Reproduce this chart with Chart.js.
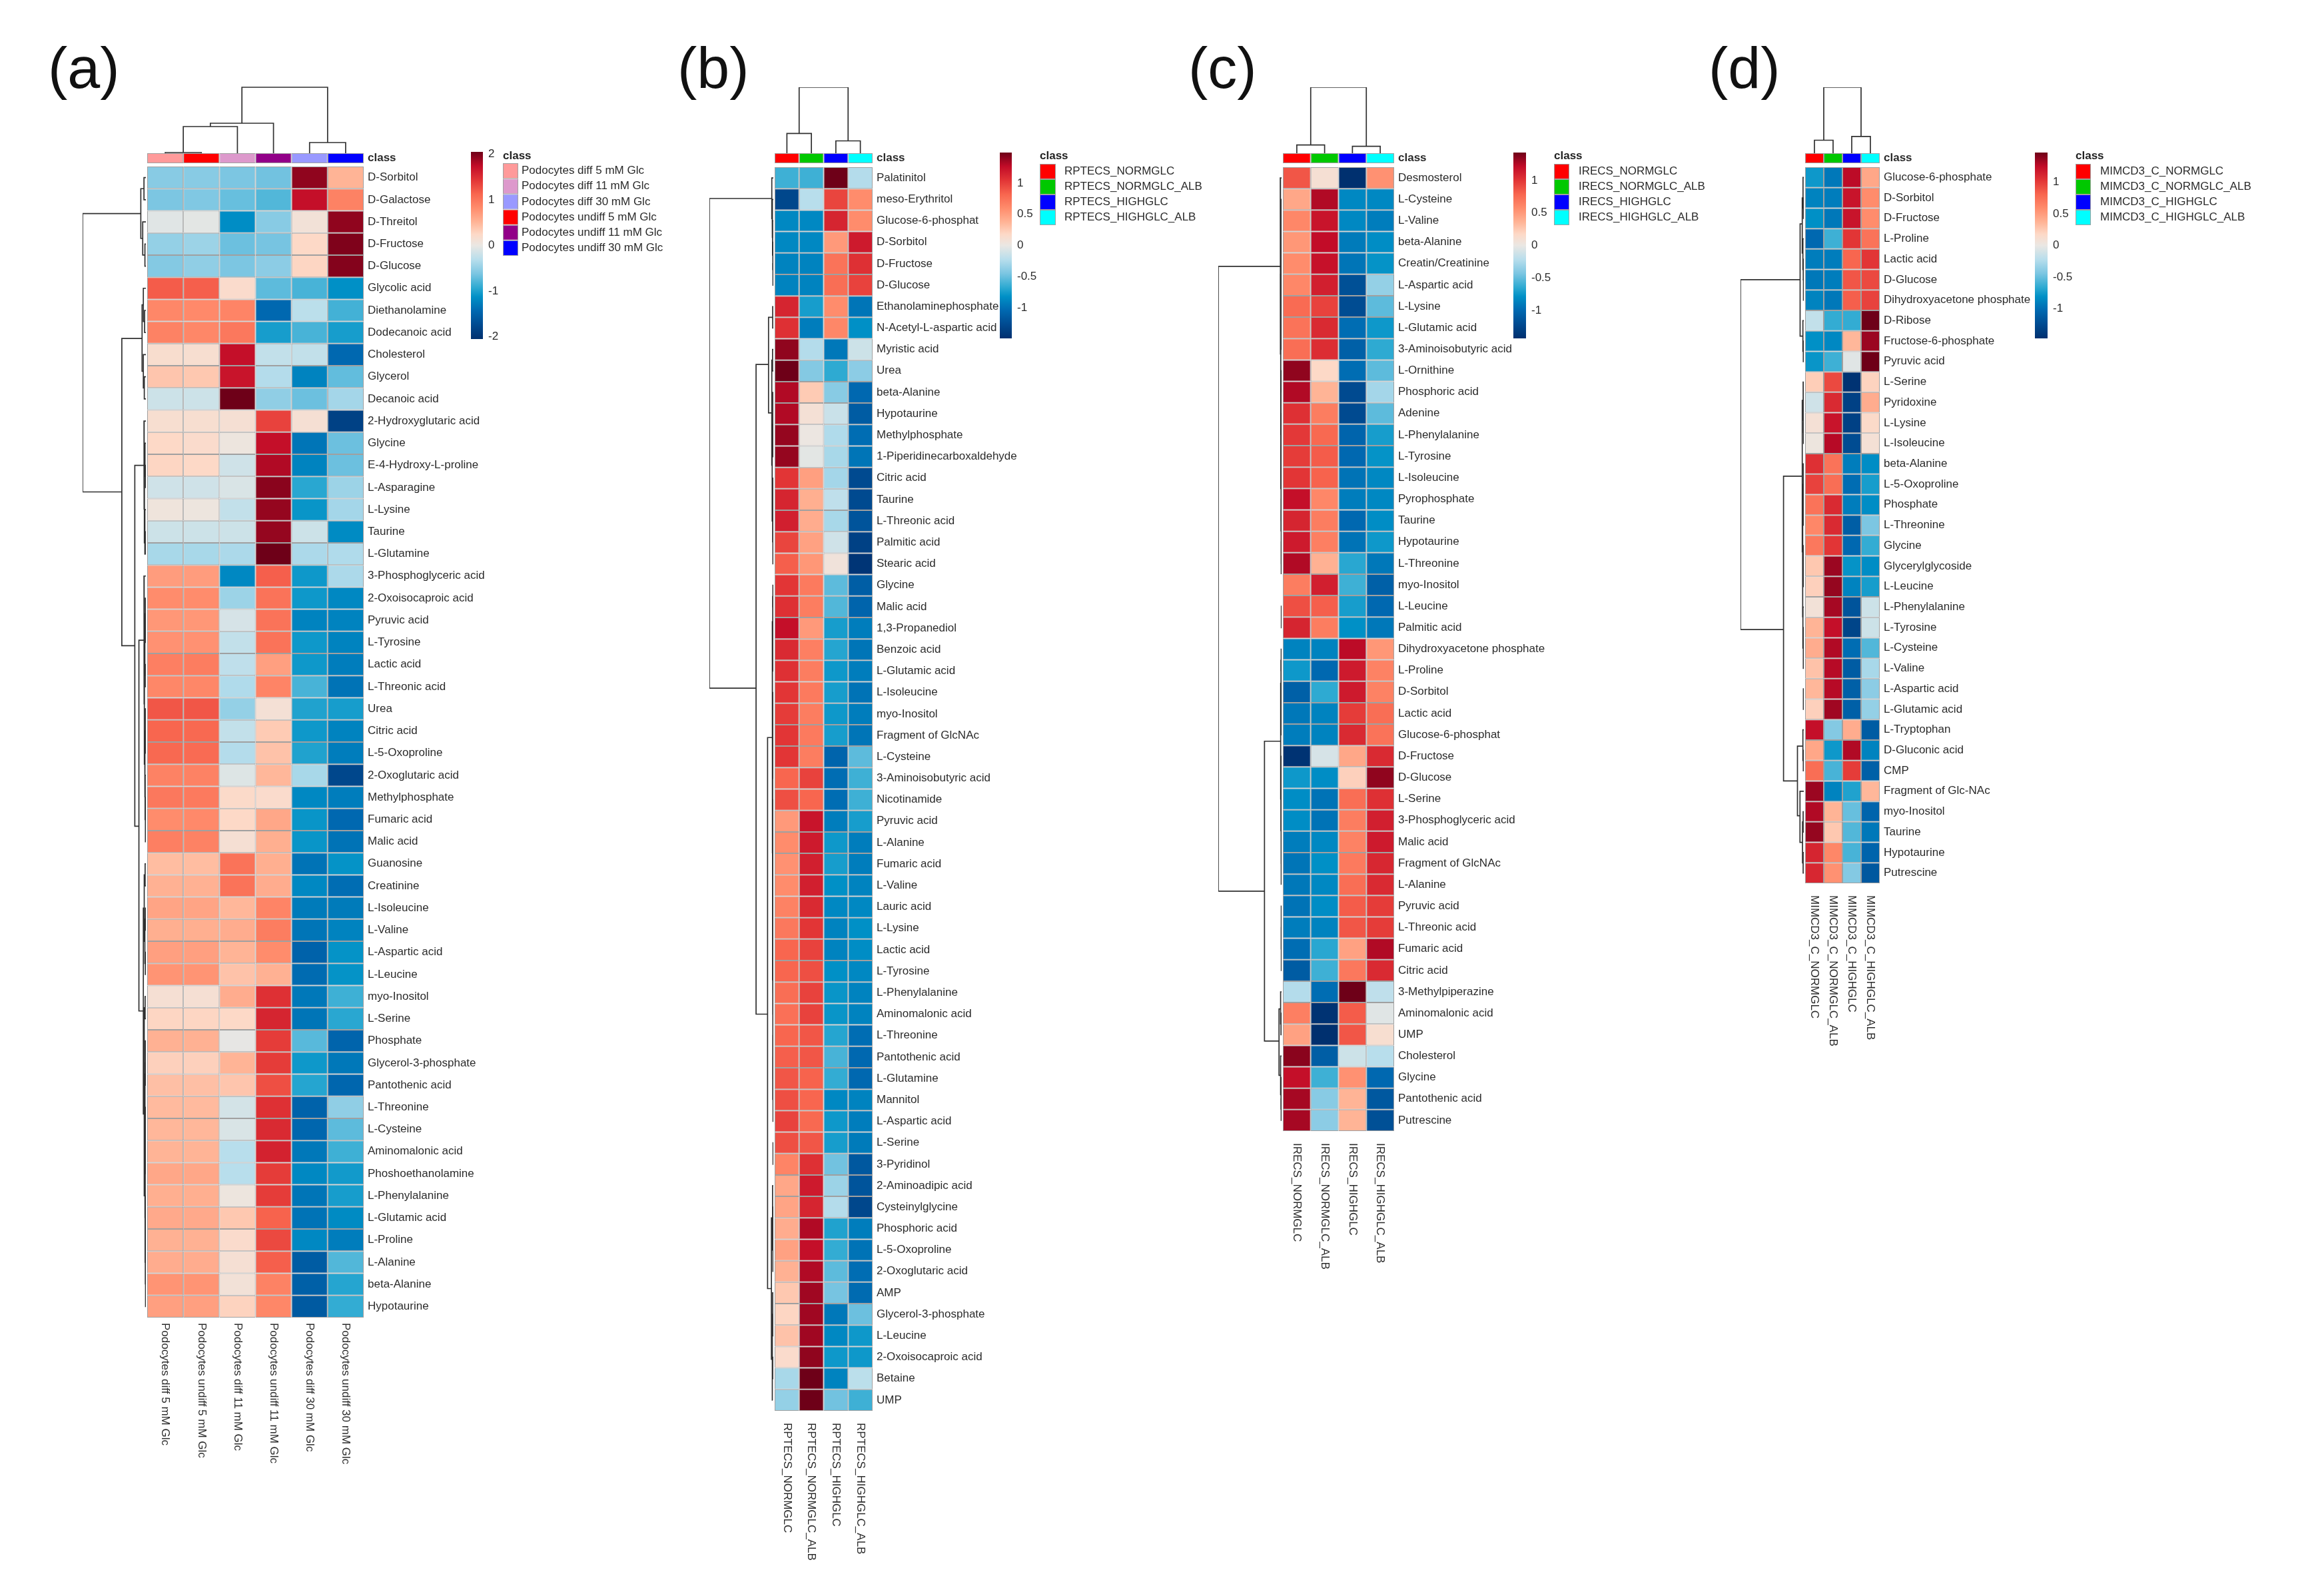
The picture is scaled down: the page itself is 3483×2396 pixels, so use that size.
<!DOCTYPE html>
<html>
<head>
<meta charset="utf-8">
<title>Metabolite heatmaps</title>
<script src="https://cdn.jsdelivr.net/npm/chart.js@4"></script>
<style>
  body { margin: 0; background: #fff; width: 3483px; height: 2396px; overflow: hidden; position: relative; font-family: "Liberation Sans", sans-serif; }
  canvas { position: absolute; }
  .letter { position: absolute; font-size: 88px; line-height: 100px; color: #111; }
  .legendTitle { position: absolute; font-size: 17px; font-weight: bold; line-height: 20px; color: #222; }
</style>
</head>
<body>
<script>
// Cell values are read from the picture as a position on the colour key,
// -100 = bottom of the key, 100 = top of the key.

const aCols = ['Podocytes diff 5 mM Glc', 'Podocytes undiff 5 mM Glc', 'Podocytes diff 11 mM Glc', 'Podocytes undiff 11 mM Glc', 'Podocytes diff 30 mM Glc', 'Podocytes undiff 30 mM Glc'];
const aClass = ['#ff9a9a', '#ff0000', '#dd99cc', '#920088', '#9999ff', '#0000ff'];
const aRows = ['D-Sorbitol', 'D-Galactose', 'D-Threitol', 'D-Fructose', 'D-Glucose', 'Glycolic acid', 'Diethanolamine', 'Dodecanoic acid', 'Cholesterol', 'Glycerol', 'Decanoic acid', '2-Hydroxyglutaric acid', 'Glycine', 'E-4-Hydroxy-L-proline', 'L-Asparagine', 'L-Lysine', 'Taurine', 'L-Glutamine', '3-Phosphoglyceric acid', '2-Oxoisocaproic acid', 'Pyruvic acid', 'L-Tyrosine', 'Lactic acid', 'L-Threonic acid', 'Urea', 'Citric acid', 'L-5-Oxoproline', '2-Oxoglutaric acid', 'Methylphosphate', 'Fumaric acid', 'Malic acid', 'Guanosine', 'Creatinine', 'L-Isoleucine', 'L-Valine', 'L-Aspartic acid', 'L-Leucine', 'myo-Inositol', 'L-Serine', 'Phosphate', 'Glycerol-3-phosphate', 'Pantothenic acid', 'L-Threonine', 'L-Cysteine', 'Aminomalonic acid', 'Phoshoethanolamine', 'L-Phenylalanine', 'L-Glutamic acid', 'L-Proline', 'L-Alanine', 'beta-Alanine', 'Hypotaurine'];
const aValues = [
  [-27,-27,-30,-32,94,25], [-30,-29,-34,-38,84,44], [-3,-2,-56,-27,5,94], [-24,-22,-33,-31,12,97], [-28,-25,-30,-26,13,96],
  [58,57,10,-36,-40,-55], [42,41,43,-70,-14,-41], [44,42,48,-50,-40,-50], [9,8,84,-12,-12,-70], [19,18,82,-16,-60,-35],
  [-9,-9,100,-25,-33,-20], [8,8,7,66,7,-90], [12,10,2,84,-65,-33], [13,12,-8,88,-60,-33], [-8,-8,-5,95,-46,-22],
  [3,2,-12,93,-53,-20], [-9,-9,-9,93,-9,-57], [-19,-19,-18,100,-18,-17], [34,34,-58,57,-52,-18], [40,40,-22,50,-52,-58],
  [36,36,-6,50,-60,-60], [38,38,-12,50,-52,-60], [45,46,-13,33,-52,-62], [42,42,-17,43,-40,-66], [60,60,-24,6,-48,-50],
  [55,54,-12,17,-52,-60], [54,53,-16,20,-48,-62], [44,44,-4,24,-19,-87], [48,47,11,10,-58,-62], [40,41,12,30,-53,-70],
  [45,44,7,27,-53,-66], [22,22,50,27,-66,-54], [26,26,50,28,-58,-68], [31,31,24,43,-63,-63], [27,27,28,46,-65,-60],
  [33,33,25,40,-73,-54], [37,37,20,26,-69,-54], [7,7,28,72,-64,-42], [13,13,12,76,-65,-46], [26,26,-1,68,-37,-72],
  [15,15,25,68,-52,-64], [21,21,19,62,-47,-71], [23,23,-7,72,-73,-25], [24,24,-5,74,-71,-36], [25,25,-15,77,-64,-42],
  [30,30,-15,68,-58,-51], [27,27,2,68,-65,-50], [29,29,18,56,-66,-57], [26,26,10,64,-58,-62], [28,28,7,57,-76,-38],
  [37,37,5,44,-74,-47], [33,33,14,42,-77,-44]
];
const aLegend = ['Podocytes diff 5 mM Glc', 'Podocytes diff 11 mM Glc', 'Podocytes diff 30 mM Glc', 'Podocytes undiff 5 mM Glc', 'Podocytes undiff 11 mM Glc', 'Podocytes undiff 30 mM Glc'];
const aLegendColors = ['#ff9a9a', '#dd99cc', '#9999ff', '#ff0000', '#920088', '#0000ff'];
const aKeyTicks = [-2, -1, 0, 1, 2];
// dendrogram links: [pos1, height1, pos2, height2, joinHeight]
const aColTree = [[0.5,0,1.5,0,1], [1,1,2.5,0,40], [1.75,40,3.5,0,45], [4.5,0,5.5,0,16], [2.625,45,5,16,99]];
const aRowTree = [
  [2.125,8,14.7,38,100], [1,3,3.25,5,8], [0.5,0,1.5,0,3], [2.5,0,4,1.5,5], [3.5,0,4.5,0,1.5],
  [7.77,6,21.65,17.5,38], [6.25,4,9.25,4,6], [5.5,0,7,2,4], [6.5,0,7.5,0,2], [8.5,0,10,2.5,4], [9.5,0,10.5,0,2.5],
  [13.5,3,29.8,11,17.5], [11.5,0,15.5,2.4,3], [13.4,1.4,17,1.6,2.4], [12.5,0,14,0.8,1.4], [13.5,0,14.5,0,0.8], [15.5,0,17.5,1,1.6], [16.5,0,17.5,0,1],
  [21.4,3,38.15,4,11], [18.5,0,24.3,2.4,3], [21.6,1.6,27,1.8,2.4], [20.2,1,23,1,1.6], [19.5,0,21,0.6,1], [20.5,0,21.5,0,0.6], [22.5,0,23.5,0,1],
  [25.5,1,28.5,1.2,1.8], [24.5,0,26,0.6,1], [25.5,0,26.5,0,0.6], [27.5,0,29.5,0.7,1.2], [28.5,0,30.5,0,0.7],
  [33.5,2.6,42.8,2.6,4], [32,1.2,35,1.6,2.6], [31.5,0,32.5,0,1.2], [34,0.8,36,0.8,1.6], [33.5,0,34.5,0,0.8], [35.5,0,36.5,0,0.8],
  [38,1.2,46.5,1.6,2.6], [37.5,0,38.5,0,1.2], [41,1,47.5,1.2,1.6], [39.5,0,41,0.6,1], [40.5,0,41.5,0,0.6],
  [44,0.8,49.5,0.8,1.2], [42.5,0,44.5,0.4,0.8], [43.5,0,45.5,0,0.4], [47,0.5,50.5,0.5,0.8], [46.5,0,47.5,0,0.5], [49.5,0,51.5,0,0.5]
];

const bCols = ['RPTECS_NORMGLC', 'RPTECS_NORMGLC_ALB', 'RPTECS_HIGHGLC', 'RPTECS_HIGHGLC_ALB'];
const bRows = ['Palatinitol', 'meso-Erythritol', 'Glucose-6-phosphat', 'D-Sorbitol', 'D-Fructose', 'D-Glucose', 'Ethanolaminephosphate', 'N-Acetyl-L-aspartic acid', 'Myristic acid', 'Urea', 'beta-Alanine', 'Hypotaurine', 'Methylphosphate', '1-Piperidinecarboxaldehyde', 'Citric acid', 'Taurine', 'L-Threonic acid', 'Palmitic acid', 'Stearic acid', 'Glycine', 'Malic acid', '1,3-Propanediol', 'Benzoic acid', 'L-Glutamic acid', 'L-Isoleucine', 'myo-Inositol', 'Fragment of GlcNAc', 'L-Cysteine', '3-Aminoisobutyric acid', 'Nicotinamide', 'Pyruvic acid', 'L-Alanine', 'Fumaric acid', 'L-Valine', 'Lauric acid', 'L-Lysine', 'Lactic acid', 'L-Tyrosine', 'L-Phenylalanine', 'Aminomalonic acid', 'L-Threonine', 'Pantothenic acid', 'L-Glutamine', 'Mannitol', 'L-Aspartic acid', 'L-Serine', '3-Pyridinol', '2-Aminoadipic acid', 'Cysteinylglycine', 'Phosphoric acid', 'L-5-Oxoproline', '2-Oxoglutaric acid', 'AMP', 'Glycerol-3-phosphate', 'L-Leucine', '2-Oxoisocaproic acid', 'Betaine', 'UMP'];
const bValues = [
  [-42,-42,100,-16], [-87,-15,65,40], [-58,-58,76,40], [-58,-58,35,80], [-60,-60,50,72], [-60,-60,52,66],
  [76,-50,40,-65], [72,-62,42,-55], [94,-16,-64,-9], [100,-28,-45,-26], [88,17,-27,-70], [88,6,-10,-76],
  [93,1,-17,-68], [93,-2,-19,-65], [70,33,-20,-85], [76,27,-13,-85], [78,28,-19,-80], [65,32,-8,-90],
  [57,36,4,-97], [70,47,-36,-75], [72,46,-38,-72], [84,35,-50,-62], [74,45,-47,-65], [72,46,-52,-62],
  [70,47,-50,-66], [68,46,-52,-62], [70,47,-50,-65], [70,46,-72,-36], [55,66,-68,-42], [62,55,-68,-42],
  [35,82,-62,-50], [40,80,-52,-62], [38,78,-50,-62], [40,78,-55,-60], [44,74,-58,-58], [48,70,-60,-55],
  [55,66,-60,-56], [55,62,-55,-58], [52,66,-53,-60], [51,66,-53,-60], [55,60,-47,-68], [57,60,-40,-70],
  [60,56,-44,-70], [62,55,-58,-60], [66,54,-52,-62], [62,60,-50,-63], [43,72,-32,-78], [30,80,-22,-80],
  [31,76,-16,-87], [28,88,-48,-62], [32,84,-44,-66], [26,88,-36,-68], [18,91,-31,-69], [13,91,-64,-33],
  [20,91,-58,-52], [10,94,-52,-52], [-19,100,-60,-14], [-24,100,-32,-42]
];
const bKeyTicks = [-1, -0.5, 0, 0.5, 1];
const bColTree = [[0.5,0,1.5,0,30], [2.5,0,3.5,0,18.7], [1,30,3,18.7,100]];
const bRowTree = [
  [1.46,2.4,24.3,27,100], [0.5,0,2.4,1.8,2.4], [1.5,0,3.3,1.2,1.8], [2.5,0,4.1,0.8,1.2], [3.5,0,4.8,0.5,0.8], [4.5,0,5.5,0,0.5],
  [9.2,7.5,39.5,9,27], [7,1,11.46,2.4,7.5], [6.5,0,7.5,0,1], [9,1.2,13.9,1.8,2.4], [8.5,0,9.5,0,1.2], [12,1,16.5,1,1.8],
  [10.5,0,12.6,0.6,1], [11.5,0,13.5,0,0.6], [15,0.6,17.5,0.6,1], [14.5,0,15.5,0,0.6], [16.5,0,18.5,0,0.6],
  [26.6,1.6,52.3,3,9], [21.2,1,32,1.2,1.6], [20,0.6,22.4,0.6,1], [19.5,0,20.5,0,0.6], [21.5,0,23.5,0,0.6],
  [26,0.8,37.9,0.8,1.2], [24.5,0,27.5,0.4,0.8], [25.5,0,28.5,0,0.4], [32,0.5,43.5,0.5,0.8], [29.5,0,34.5,0,0.5], [30.5,0,33.5,0,0.3],
  [36.5,0,38.5,0,0.3], [35.5,0,39.5,0,0.4], [40.5,0,44.5,0,0.4], [41.5,0,42.5,0,0.3], [45.5,0,46.5,0,0.4],
  [49,1.2,55.6,1.6,3], [47.5,0,50.5,0.6,1.2], [48.5,0,51.5,0,0.6], [53.5,1,57.5,1,1.6], [52.5,0,54.5,0,1], [55.5,0,56.5,0,1]
];

const cCols = ['IRECS_NORMGLC', 'IRECS_NORMGLC_ALB', 'IRECS_HIGHGLC', 'IRECS_HIGHGLC_ALB'];
const cRows = ['Desmosterol', 'L-Cysteine', 'L-Valine', 'beta-Alanine', 'Creatin/Creatinine', 'L-Aspartic acid', 'L-Lysine', 'L-Glutamic acid', '3-Aminoisobutyric acid', 'L-Ornithine', 'Phosphoric acid', 'Adenine', 'L-Phenylalanine', 'L-Tyrosine', 'L-Isoleucine', 'Pyrophosphate', 'Taurine', 'Hypotaurine', 'L-Threonine', 'myo-Inositol', 'L-Leucine', 'Palmitic acid', 'Dihydroxyacetone phosphate', 'L-Proline', 'D-Sorbitol', 'Lactic acid', 'Glucose-6-phosphat', 'D-Fructose', 'D-Glucose', 'L-Serine', '3-Phosphoglyceric acid', 'Malic acid', 'Fragment of GlcNAc', 'L-Alanine', 'Pyruvic acid', 'L-Threonic acid', 'Fumaric acid', 'Citric acid', '3-Methylpiperazine', 'Aminomalonic acid', 'UMP', 'Cholesterol', 'Glycine', 'Pantothenic acid', 'Putrescine'];
const cValues = [
  [60,7,-100,38], [30,88,-58,-58], [42,82,-58,-62], [36,85,-63,-56], [40,83,-65,-54], [42,78,-82,-24],
  [53,66,-84,-36], [50,74,-68,-52], [52,73,-74,-45], [94,12,-68,-36], [88,25,-85,-20], [72,46,-85,-36],
  [69,54,-72,-50], [68,58,-70,-54], [70,56,-66,-58], [84,42,-62,-58], [76,46,-70,-56], [80,45,-66,-52],
  [88,26,-46,-64], [46,78,-42,-74], [62,57,-50,-70], [76,46,-55,-64], [-60,-60,86,36], [-52,-70,80,44],
  [-74,-45,80,44], [-64,-60,68,52], [-62,-60,74,50], [-98,-6,30,74], [-52,-56,15,94], [-56,-66,52,72],
  [-56,-66,46,78], [-62,-58,44,80], [-65,-55,47,75], [-64,-58,52,74], [-66,-56,58,68], [-62,-60,60,68],
  [-68,-46,32,88], [-76,-42,48,74], [-16,-68,100,-13], [45,-98,58,-3], [32,-100,60,8], [95,-75,-9,-15],
  [84,-42,38,-70], [90,-27,25,-78], [90,-26,25,-82]
];
const cKeyTicks = [-1, -0.5, 0, 0.5, 1];
const cColTree = [[0.5,0,1.5,0,12.4], [2.5,0,3.5,0,10.4], [1,12.4,3,10.4,100]];
const cRowTree = [
  [4.63,2,33.8,27,100], [0.5,0,8.75,1.4,2], [5,1,12.5,1.1,1.4], [3,0.7,7,0.7,1], [2,0.4,4,0.4,0.7], [1.5,0,2.5,0,0.4], [3.5,0,4.5,0,0.4],
  [6,0.4,8,0.4,0.7], [5.5,0,6.5,0,0.4], [7.5,0,8.5,0,0.4], [10,0.6,15,0.8,1.1], [9.5,0,10.5,0,0.6], [13,0.5,17,0.5,0.8],
  [11.5,0,14.5,0.3,0.5], [12.5,0,13.5,0,0.3], [16,0.3,19,0.3,0.5], [15.5,0,16.5,0,0.3], [17.5,0,18.5,0,0.3], [20.5,0,21.5,0,0.3],
  [26.8,1.4,40.8,4,27], [24.1,1,29.5,1,1.4], [23,0.5,25.2,0.5,1], [22.5,0,23.5,0,0.5], [24.5,0,25.9,0.3,0.5], [25.5,0,26.5,0,0.3],
  [28,0.6,31,0.6,1], [27.5,0,28.5,0,0.6], [29.5,0,33.5,0.3,0.6], [30.5,0,32.5,0,0.3], [34.5,0,36.5,0,0.4], [35.5,0,37.5,0,0.3],
  [39.3,1.5,42.4,1.5,4], [38.5,0,40,0.9,1.5], [39.5,0,40.5,0,0.9], [41.5,0,43.3,0.9,1.5], [42.5,0,44,0.5,0.9], [43.5,0,44.5,0,0.5]
];

const dCols = ['MIMCD3_C_NORMGLC', 'MIMCD3_C_NORMGLC_ALB', 'MIMCD3_C_HIGHGLC', 'MIMCD3_C_HIGHGLC_ALB'];
const dRows = ['Glucose-6-phosphate', 'D-Sorbitol', 'D-Fructose', 'L-Proline', 'Lactic acid', 'D-Glucose', 'Dihydroxyacetone phosphate', 'D-Ribose', 'Fructose-6-phosphate', 'Pyruvic acid', 'L-Serine', 'Pyridoxine', 'L-Lysine', 'L-Isoleucine', 'beta-Alanine', 'L-5-Oxoproline', 'Phosphate', 'L-Threonine', 'Glycine', 'Glycerylglycoside', 'L-Leucine', 'L-Phenylalanine', 'L-Tyrosine', 'L-Cysteine', 'L-Valine', 'L-Aspartic acid', 'L-Glutamic acid', 'L-Tryptophan', 'D-Gluconic acid', 'CMP', 'Fragment of Glc-NAc', 'myo-Inositol', 'Taurine', 'Hypotaurine', 'Putrescine'];
const dValues = [
  [-52,-64,86,30], [-60,-62,82,40], [-55,-64,82,40], [-70,-42,70,50], [-62,-62,55,70], [-64,-62,60,64], [-60,-64,57,66],
  [-12,-44,-44,100], [-55,-58,24,92], [-53,-42,-3,100], [16,64,-98,14], [-8,74,-90,28], [6,82,-90,11], [2,87,-84,6],
  [72,50,-62,-56], [66,52,-68,-50], [50,74,-62,-56], [42,74,-75,-30], [48,70,-70,-44], [18,92,-54,-56], [15,93,-60,-50],
  [5,90,-80,-9], [25,84,-88,-9], [28,88,-68,-38], [20,87,-76,-19], [24,87,-74,-26], [15,91,-74,-24], [84,-28,28,-76],
  [30,-52,88,-60], [52,-40,68,-74], [92,-60,-48,24], [88,25,-34,-72], [93,18,-38,-64], [76,42,-40,-72], [75,38,-28,-78]
];
const dKeyTicks = [-1, -0.5, 0, 0.5, 1];
const dColTree = [[0.5,0,1.5,0,19.7], [2.5,0,3.5,0,25.4], [1,19.7,3,25.4,100]];
const dRowTree = [
  [5.5,5.8,22.6,32,100], [2.77,2.4,8.26,1.4,5.8], [1.5,1.2,4.2,1.4,2.4], [0.5,0,2,0.7,1.2], [1.5,0,2.5,0,0.7], [3.5,0,5,0.8,1.4], [4.5,0,5.5,0,0.8], [5.5,0,6.5,0,0.5],
  [7.5,0,9,0.7,1.4], [8.5,0,9.5,0,0.7],
  [15.1,2.4,30,10,32], [11.4,1,18.8,2,2.4], [10.5,0,12.4,0.7,1], [11.5,0,13,0.4,0.7], [12.5,0,13.5,0,0.4],
  [15.5,1,22,1.4,2], [14.5,0,16.5,0.6,1], [16.5,0,17.5,0,0.6], [18.5,0,20,0.7,1], [19.5,0,20.5,0,0.7], [21.5,0,23.5,0.7,1.4], [22.5,0,24.5,0,0.7], [25.5,0,26.5,0,0.6],
  [28.3,1.4,31.7,6,10], [27.5,0,29,0.7,1.4], [28.5,0,29.5,0,0.7],
  [30.5,0,33,2,6], [32,1,34,1,2], [31.5,0,32.5,0,1], [33.5,0,34.5,0,1]
];

// colour key, from bottom to top
const keyStopAt = [-100, -85, -70, -55, -45, -30, -15, 0, 12, 25, 40, 55, 70, 85, 100];
const keyStopColors = ['#00306f', '#004a90', '#0068b0', '#0090c6', '#2eaad2', '#7cc6e2', '#b8deec', '#eae7e3', '#fdd9c7', '#ffb496', '#ff8c6c', '#f8664f', '#e23536', '#c20c28', '#6e0018'];

Chart.defaults.animation = false;
Chart.defaults.plugins.legend.display = false;
Chart.defaults.plugins.tooltip.enabled = false;
Chart.defaults.font.family = '"Liberation Sans", sans-serif';
Chart.defaults.color = '#2b2b2b';

function hexToRgb(hex) {
    return [1, 3, 5].map(i => parseInt(hex.slice(i, i + 2), 16));
}

function keyColor(v) {
    let i = 0;
    while (i < keyStopAt.length - 2 && v > keyStopAt[i + 1]) i++;
    const t = Math.min(1, Math.max(0, (v - keyStopAt[i]) / (keyStopAt[i + 1] - keyStopAt[i])));
    const a = hexToRgb(keyStopColors[i]);
    const b = hexToRgb(keyStopColors[i + 1]);
    return 'rgb(' + a.map((c, k) => Math.round(c + (b[k] - c) * t)).join(',') + ')';
}

function addCanvas(x, y, w, h) {
    const canvas = document.createElement('canvas');
    canvas.width = w;
    canvas.height = h;
    canvas.style.left = x + 'px';
    canvas.style.top = y + 'px';
    canvas.style.width = w + 'px';
    canvas.style.height = h + 'px';
    document.body.appendChild(canvas);
    return canvas.getContext('2d');
}

const hidden = { display: false };
const noGrid = { display: false, drawTicks: false };
const margin = 10;  // room for the first and last axis label

function fixWidth(scale, width) {
    scale.width = width;
    scale.paddingTop = 0;
    scale.paddingBottom = 0;
}

// a table of cells with its row names on the right
function drawCells(box, cols, rows, colorOf, labelWidth, font, padding) {
    const datasets = rows.map((row, r) => ({
        data: cols.map(col => ({ x: col, y: [r, r + 1] })),
        backgroundColor: cols.map((col, c) => colorOf(r, c)),
        borderColor: '#a0a0a0',
        borderWidth: 1,
        borderSkipped: false,
        inflateAmount: 0,
        grouped: false,
        barPercentage: 1,
        categoryPercentage: 1
    }));
    return new Chart(addCanvas(box.x, box.y - margin, box.w + labelWidth, box.h + 2 * margin), {
        type: 'bar',
        data: { labels: cols, datasets: datasets },
        options: {
            responsive: false,
            layout: { padding: { top: margin, bottom: margin } },
            scales: {
                x: hidden,
                y: { display: false, min: 0, max: rows.length, reverse: true },
                y1: {
                    axis: 'y',
                    type: 'category',
                    labels: rows,
                    offset: true,
                    position: 'right',
                    grid: noGrid,
                    border: hidden,
                    afterFit: s => fixWidth(s, labelWidth),
                    ticks: { autoSkip: false, padding: padding, font: font }
                }
            }
        }
    });
}

function drawLinks(ctx, links, toPoint, xScale, yScale) {
    const datasets = links.map(l => ({
        data: [toPoint(l[0], l[1]), toPoint(l[0], l[4]), toPoint(l[2], l[4]), toPoint(l[2], l[3])],
        showLine: true,
        pointRadius: 0,
        borderColor: '#303030',
        borderWidth: 1.7,
        clip: false
    }));
    return new Chart(ctx, {
        type: 'scatter',
        data: { datasets: datasets },
        options: {
            responsive: false,
            layout: { padding: 0 },
            scales: { x: xScale, y: yScale }
        }
    });
}

function drawColTree(p) {
    const ctx = addCanvas(p.heat.x, p.treeTop, p.heat.w, p.treeBase - p.treeTop);
    drawLinks(ctx, p.colTree, (pos, h) => ({ x: pos, y: h }),
        { display: false, min: 0, max: p.cols.length },
        { display: false, min: 0, max: 100 });
}

function drawRowTree(p) {
    const ctx = addCanvas(p.rootX, p.heat.y, p.heat.x - 2 - p.rootX, p.heat.h);
    drawLinks(ctx, p.rowTree, (pos, h) => ({ x: h, y: pos }),
        { display: false, min: 0, max: 100, reverse: true },
        { display: false, min: 0, max: p.rows.length, reverse: true });
}

// column names run top to bottom under the table
function drawColNames(p) {
    new Chart(addCanvas(p.heat.x, p.colNameY, p.heat.w, 260), {
        type: 'bar',
        data: { labels: p.cols, datasets: [] },
        options: {
            responsive: false,
            layout: { padding: 0 },
            scales: {
                x: {
                    position: 'top',
                    grid: noGrid,
                    border: hidden,
                    afterFit: s => { s.height = 4; },
                    ticks: { autoSkip: false, mirror: true, minRotation: -90, maxRotation: -90, padding: 0, font: { size: 17 } }
                },
                y: hidden
            }
        }
    });
}

function drawKey(p) {
    const k = p.key;
    new Chart(addCanvas(k.x, k.y - margin, k.w + 60, k.h + 2 * margin), {
        type: 'bar',
        data: {
            labels: ['key'],
            datasets: [{
                data: [[-k.zMax, k.zMax]],
                barPercentage: 1,
                categoryPercentage: 1,
                inflateAmount: 0,
                backgroundColor: c => {
                    const area = c.chart.chartArea;
                    if (!area) return '#ccc';
                    const g = c.chart.ctx.createLinearGradient(0, area.bottom, 0, area.top);
                    keyStopAt.forEach((at, i) => g.addColorStop((at + 100) / 200, keyStopColors[i]));
                    return g;
                }
            }]
        },
        options: {
            responsive: false,
            layout: { padding: { top: margin, bottom: margin } },
            scales: {
                x: hidden,
                y: {
                    position: 'right',
                    min: -k.zMax,
                    max: k.zMax,
                    grid: noGrid,
                    border: hidden,
                    afterFit: s => fixWidth(s, 60),
                    afterBuildTicks: s => { s.ticks = p.keyTicks.map(v => ({ value: v })); },
                    ticks: { padding: 8, font: { size: 17 }, callback: v => String(v) }
                }
            }
        }
    });
}

function addText(cls, text, x, y) {
    const el = document.createElement('div');
    el.className = cls;
    el.textContent = text;
    el.style.left = x + 'px';
    el.style.top = y + 'px';
    document.body.appendChild(el);
}

const fourClassColors = ['#ff0000', '#00c800', '#0000ff', '#00ffff'];

const panels = [
    { letter: '(a)', letterX: 72, cols: aCols, rows: aRows, values: aValues, classColors: aClass, legend: aLegend, legendColors: aLegendColors,
      keyTicks: aKeyTicks, colTree: aColTree, rowTree: aRowTree, heat: { x: 221, y: 250, w: 325, h: 1728 }, treeTop: 130, treeBase: 230, rootX: 124,
      colNameY: 1982, key: { x: 707, y: 228, w: 18, h: 281, zMax: 2.05 }, legendBox: { x: 755, y: 245, w: 23, h: 139 }, legendPad: 5 },
    { letter: '(b)', letterX: 1017, cols: bCols, rows: bRows, values: bValues, classColors: fourClassColors, legend: bCols, legendColors: fourClassColors,
      keyTicks: bKeyTicks, colTree: bColTree, rowTree: bRowTree, heat: { x: 1163, y: 251, w: 147, h: 1867 }, treeTop: 131, treeBase: 230, rootX: 1065,
      colNameY: 2132, key: { x: 1501, y: 229, w: 18, h: 279, zMax: 1.49 }, legendBox: { x: 1561, y: 246, w: 24, h: 92 }, legendPad: 13 },
    { letter: '(c)', letterX: 1784, cols: cCols, rows: cRows, values: cValues, classColors: fourClassColors, legend: cCols, legendColors: fourClassColors,
      keyTicks: cKeyTicks, colTree: cColTree, rowTree: cRowTree, heat: { x: 1926, y: 251, w: 167, h: 1447 }, treeTop: 131, treeBase: 230, rootX: 1829,
      colNameY: 1712, key: { x: 2272, y: 229, w: 19, h: 279, zMax: 1.43 }, legendBox: { x: 2333, y: 246, w: 23, h: 92 }, legendPad: 14 },
    { letter: '(d)', letterX: 2565, cols: dCols, rows: dRows, values: dValues, classColors: fourClassColors, legend: dCols, legendColors: fourClassColors,
      keyTicks: dKeyTicks, colTree: dColTree, rowTree: dRowTree, heat: { x: 2710, y: 251, w: 112, h: 1075 }, treeTop: 131, treeBase: 230, rootX: 2613,
      colNameY: 1340, key: { x: 3055, y: 229, w: 19, h: 279, zMax: 1.47 }, legendBox: { x: 3116, y: 246, w: 23, h: 92 }, legendPad: 14 }
];

panels.forEach(p => {
    addText('letter', p.letter, p.letterX, 52);
    drawCells(p.heat, p.cols, p.rows, (r, c) => keyColor(p.values[r][c]), 420, { size: 17 }, 6);
    drawCells({ x: p.heat.x, y: 230, w: p.heat.w, h: 15 }, p.cols, ['class'], (r, c) => p.classColors[c], 60, { size: 17, weight: 'bold' }, 6);
    drawColTree(p);
    drawRowTree(p);
    drawColNames(p);
    drawKey(p);
    drawCells(p.legendBox, ['class'], p.legend, r => p.legendColors[r], 330, { size: 17 }, p.legendPad);
    addText('legendTitle', 'class', p.legendBox.x, 224);
});
</script>
</body>
</html>
